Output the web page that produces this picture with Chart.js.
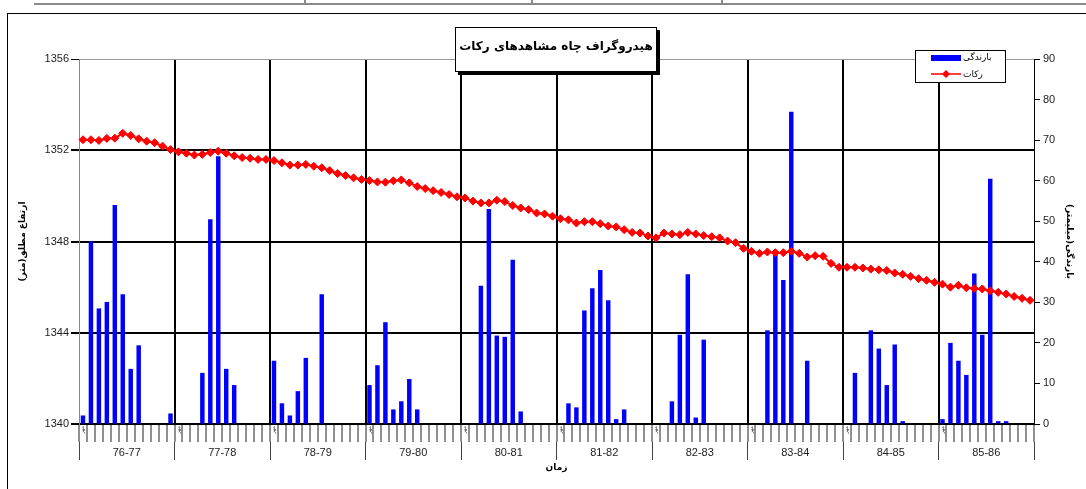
<!DOCTYPE html>
<html>
<head>
<meta charset="utf-8">
<script src="https://cdn.jsdelivr.net/npm/chart.js@4.4.0/dist/chart.umd.min.js"></script>
<style>
  body { margin: 0; background: #fff; }
  #wrap { width: 1086px; height: 489px; }
</style>
</head>
<body>
<div id="wrap"><canvas id="hydroChart" width="1086" height="489"></canvas></div>
<script>
// water years and months (starting from mehr)
let years = ['76-77', '77-78', '78-79', '79-80', '80-81', '81-82', '82-83', '83-84', '84-85', '85-86'];
let monthNames = ['مهر', 'آبان', 'آذر', 'دی', 'بهمن', 'اسفند', 'فروردین', 'اردیبهشت', 'خرداد', 'تیر', 'مرداد', 'شهریور'];

// monthly rainfall (mm), one row per water year
let rain7677 = [2.1, 45, 28.5, 30.1, 54, 32, 13.6, 19.4, 0, 0, 0, 2.6];
let rain7778 = [0, 0, 0, 12.6, 50.5, 66, 13.6, 9.6, 0, 0, 0, 0];
let rain7879 = [15.6, 5.1, 2.1, 8.1, 16.3, 0, 32, 0, 0, 0, 0, 0];
let rain7980 = [9.6, 14.5, 25.1, 3.6, 5.6, 11.1, 3.6, 0, 0, 0, 0, 0];
let rain8081 = [0, 0, 34.1, 53, 21.8, 21.5, 40.5, 3.1, 0, 0, 0, 0];
let rain8182 = [0, 5.1, 4.1, 28, 33.5, 38, 30.5, 1.2, 3.6, 0, 0, 0];
let rain8283 = [0, 0, 5.6, 22, 36.9, 1.6, 20.8, 0, 0, 0, 0, 0];
let rain8384 = [0, 0, 23.1, 41.7, 35.5, 77, 0, 15.6, 0, 0, 0, 0];
let rain8485 = [0, 12.6, 0, 23.1, 18.6, 9.6, 19.6, 0.7, 0, 0, 0, 0];
let rain8586 = [1.2, 20, 15.6, 12.1, 37.1, 22, 60.5, 0.7, 0.7, 0, 0, 0];

// water table elevation of the Rakat well (m)
let level7677 = [1352.46, 1352.46, 1352.43, 1352.52, 1352.53, 1352.74, 1352.65, 1352.50, 1352.40, 1352.33, 1352.18, 1352.03];
let level7778 = [1351.93, 1351.87, 1351.79, 1351.82, 1351.90, 1351.96, 1351.87, 1351.76, 1351.68, 1351.65, 1351.60, 1351.60];
let level7879 = [1351.55, 1351.45, 1351.35, 1351.35, 1351.38, 1351.30, 1351.23, 1351.11, 1350.98, 1350.89, 1350.79, 1350.72];
let level7980 = [1350.67, 1350.61, 1350.60, 1350.66, 1350.70, 1350.57, 1350.41, 1350.32, 1350.23, 1350.15, 1350.06, 1349.96];
let level8081 = [1349.91, 1349.77, 1349.69, 1349.69, 1349.81, 1349.75, 1349.58, 1349.47, 1349.40, 1349.25, 1349.21, 1349.11];
let level8182 = [1349.00, 1348.95, 1348.81, 1348.87, 1348.87, 1348.78, 1348.68, 1348.64, 1348.52, 1348.40, 1348.37, 1348.24];
let level8283 = [1348.16, 1348.37, 1348.33, 1348.30, 1348.40, 1348.33, 1348.26, 1348.21, 1348.16, 1348.02, 1347.95, 1347.70];
let level8384 = [1347.57, 1347.48, 1347.54, 1347.51, 1347.51, 1347.57, 1347.48, 1347.32, 1347.38, 1347.35, 1347.04, 1346.87];
let level8485 = [1346.87, 1346.87, 1346.84, 1346.79, 1346.76, 1346.73, 1346.62, 1346.56, 1346.47, 1346.37, 1346.30, 1346.21];
let level8586 = [1346.13, 1346.00, 1346.08, 1345.97, 1345.94, 1345.92, 1345.84, 1345.77, 1345.70, 1345.59, 1345.51, 1345.42];

let rainfall = [].concat(rain7677, rain7778, rain7879, rain7980, rain8081, rain8182, rain8283, rain8384, rain8485, rain8586);
let waterLevel = [].concat(level7677, level7778, level7879, level7980, level8081, level8182, level8283, level8384, level8485, level8586);

let monthLabels = [];
for (let y = 0; y < years.length; y++) {
    for (let m = 0; m < 12; m++) {
        monthLabels.push(years[y] + ' ' + monthNames[m]);
    }
}

const RLM = '\u200F';
const numFont = { family: 'Liberation Sans', size: 11 };
const faFont = { family: 'DejaVu Sans', size: 9, weight: 'bold' };

// page frame, title box and legend box
const decor = {
    id: 'decor',
    beforeDraw(chart) {
        const c = chart.ctx;
        c.save();
        c.fillStyle = '#fff';
        c.fillRect(0, 0, chart.width, chart.height);
        c.strokeStyle = '#8a8a8a';
        c.lineWidth = 2;
        c.beginPath();
        c.moveTo(34, 4); c.lineTo(chart.width, 4);
        [305, 532, 722].forEach(x => { c.moveTo(x, 0); c.lineTo(x, 4); });
        c.stroke();
        c.strokeStyle = '#000';
        c.lineWidth = 1;
        c.strokeRect(7.5, 13.5, chart.width + 20, chart.height + 20);
        c.restore();
    },
    afterDraw(chart) {
        const c = chart.ctx;
        c.save();
        // title box with shadow
        c.fillStyle = '#000';
        c.fillRect(458, 30, 202, 45);
        c.fillStyle = '#fff';
        c.fillRect(455, 27, 202, 45);
        c.strokeStyle = '#000';
        c.lineWidth = 1;
        c.strokeRect(455.5, 27.5, 201, 44);
        c.fillStyle = '#000';
        c.font = 'bold 12px "DejaVu Sans"';
        c.textAlign = 'center';
        c.textBaseline = 'middle';
        c.fillText('هیدروگراف چاه مشاهدهای رکات', 556, 47);

        // legend
        c.fillStyle = '#fff';
        c.fillRect(915, 50, 91, 33);
        c.strokeRect(915.5, 50.5, 90, 32);
        const ds = chart.data.datasets;
        const bar = ds.find(d => d.type === 'bar');
        const line = ds.find(d => d.type === 'line');
        c.fillStyle = bar.backgroundColor;
        c.fillRect(931, 55, 30, 6);
        c.strokeStyle = line.borderColor;
        c.lineWidth = 1.5;
        c.beginPath(); c.moveTo(931, 74); c.lineTo(961, 74); c.stroke();
        c.fillStyle = line.pointBackgroundColor;
        c.beginPath();
        c.moveTo(946, 70); c.lineTo(950, 74); c.lineTo(946, 78); c.lineTo(942, 74);
        c.closePath(); c.fill();
        c.fillStyle = '#000';
        c.font = '9px "DejaVu Sans"';
        c.textAlign = 'left';
        c.fillText(bar.label, 963, 58);
        c.fillText(line.label, 963, 75);
        c.restore();
    }
};

let hydroChart = document.getElementById('hydroChart');

new Chart(hydroChart, {
    type: 'bar',
    data: {
        labels: monthLabels,
        datasets: [{
            type: 'line',
            label: 'رکات',
            data: waterLevel,
            yAxisID: 'y',
            xAxisID: 'x',
            order: 1,
            borderColor: '#ff0000',
            borderWidth: 2,
            pointStyle: 'rectRot',
            pointRadius: 4,
            pointBorderWidth: 1,
            pointBackgroundColor: '#ff0000',
            pointBorderColor: '#ff0000',
            tension: 0
        }, {
            type: 'bar',
            label: 'بارندگی',
            data: rainfall,
            yAxisID: 'y2',
            xAxisID: 'x',
            order: 2,
            backgroundColor: '#0000ff',
            barPercentage: 0.56,
            categoryPercentage: 1
        }]
    },
    plugins: [decor],
    options: {
        responsive: false,
        animation: false,
        layout: { padding: { top: 59, left: 0, right: 0, bottom: 0 } },
        plugins: {
            legend: { display: false },
            title: { display: false },
            tooltip: { enabled: false }
        },
        scales: {
            x: {
                type: 'category',
                position: 'bottom',
                weight: 0,
                offset: true,
                afterFit: s => { s.height = 18; },
                border: { display: true, color: '#000', width: 1.5 },
                grid: {
                    offset: true,
                    drawTicks: true,
                    tickLength: 18,
                    tickWidth: 1,
                    tickColor: '#222',
                    lineWidth: 2,
                    color: ctx => (ctx.index > 0 && ctx.index < 120 && ctx.index % 12 === 0) ? '#000' : 'rgba(0,0,0,0)'
                },
                ticks: {
                    autoSkip: false,
                    maxRotation: 90,
                    minRotation: 90,
                    padding: -16,
                    color: '#333',
                    font: { family: 'DejaVu Sans', size: 5 },
                    callback: (v, i) => i % 12 === 0 ? monthNames[0] : ''
                }
            },
            x2: {
                type: 'category',
                position: 'bottom',
                weight: 1,
                labels: years,
                offset: true,
                afterFit: s => { s.height = 47; },
                border: { display: false },
                grid: {
                    offset: true,
                    drawOnChartArea: false,
                    drawTicks: true,
                    tickLength: 18,
                    tickWidth: 1,
                    tickColor: '#444'
                },
                ticks: {
                    autoSkip: false,
                    maxRotation: 0,
                    padding: -14,
                    color: '#222',
                    font: numFont
                },
                title: {
                    display: true,
                    text: 'زمان',
                    color: '#000',
                    font: faFont,
                    padding: { top: 0, bottom: 16 }
                }
            },
            y: {
                position: 'left',
                min: 1340,
                max: 1356,
                afterFit: s => { s.width = 79; },
                border: { display: true, color: '#888', width: 1 },
                grid: {
                    drawTicks: true,
                    tickLength: 8,
                    tickColor: '#000',
                    color: ctx => ctx.tick && ctx.tick.value === 1356 ? '#999' : '#000',
                    lineWidth: ctx => ctx.tick && ctx.tick.value === 1356 ? 1 : 2
                },
                ticks: {
                    stepSize: 4,
                    padding: 2,
                    color: '#222',
                    font: numFont,
                    callback: v => String(v)
                },
                title: {
                    display: true,
                    text: 'ارتفاع مطلق(متر)' + RLM,
                    color: '#000',
                    font: faFont,
                    padding: { top: 17, bottom: 0 }
                }
            },
            y2: {
                position: 'right',
                min: 0,
                max: 90,
                afterFit: s => { s.width = 52; },
                border: { display: true, color: '#000', width: 1 },
                grid: {
                    drawOnChartArea: false,
                    drawTicks: true,
                    tickLength: 6,
                    tickColor: '#000'
                },
                ticks: {
                    stepSize: 10,
                    padding: 3,
                    color: '#222',
                    font: numFont
                },
                title: {
                    display: true,
                    text: 'بارندگی(میلیمتر)' + RLM,
                    color: '#000',
                    font: faFont,
                    padding: { top: 11, bottom: 0 }
                }
            }
        }
    }
});
</script>
</body>
</html>
